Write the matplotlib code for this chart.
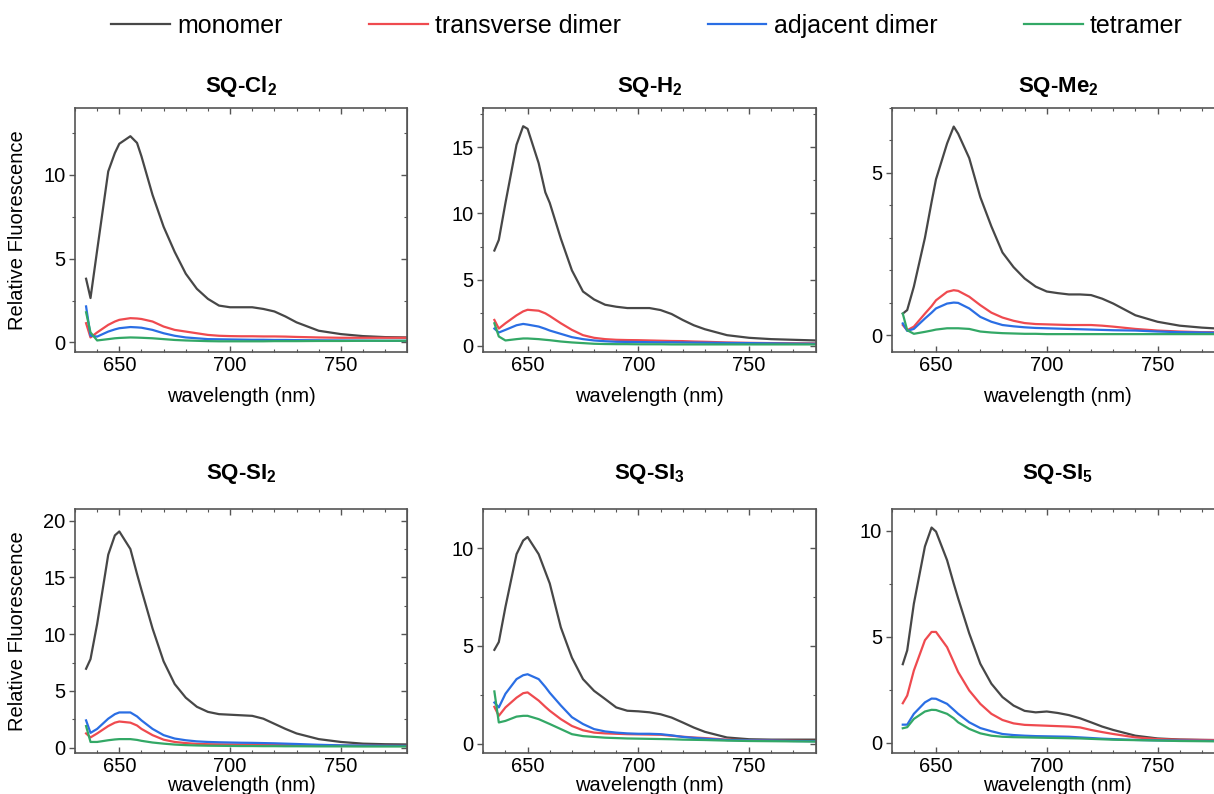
import numpy as np
import matplotlib
matplotlib.use("Agg")
import matplotlib.pyplot as plt
from matplotlib.ticker import MultipleLocator

plt.rcParams["font.family"] = ["Liberation Sans", "DejaVu Sans"]
plt.rcParams["mathtext.fontset"] = "custom"
plt.rcParams["mathtext.rm"] = "Liberation Sans"
plt.rcParams["mathtext.bf"] = "Liberation Sans:bold"

# wavelength grid (nm) shared by all curves
wl = [635, 637, 640, 645, 648, 650, 655, 658, 660, 665, 670, 675, 680, 685,
      690, 695, 700, 705, 710, 715, 720, 725, 730, 740, 750, 760, 770, 780]

series_names = ["monomer", "transverse dimer", "adjacent dimer", "tetramer"]
series_colors = ["#474747", "#ef4a4f", "#2a6ee4", "#33a866"]

# SQ-Cl2
cl2_mono = [3.8, 2.65, 5.5, 10.2, 11.3, 11.85, 12.3, 11.9, 11.1, 8.8, 6.9, 5.4, 4.1, 3.2,
            2.6, 2.2, 2.1, 2.1, 2.1, 2.0, 1.85, 1.55, 1.2, 0.7, 0.5, 0.38, 0.32, 0.3]
cl2_trans = [1.15, 0.3, 0.6, 1.05, 1.25, 1.35, 1.45, 1.43, 1.4, 1.25, 0.95, 0.75, 0.65, 0.55,
             0.45, 0.4, 0.38, 0.37, 0.37, 0.36, 0.36, 0.35, 0.33, 0.3, 0.28, 0.28, 0.28, 0.28]
cl2_adj = [2.15, 0.4, 0.35, 0.65, 0.78, 0.85, 0.92, 0.9, 0.88, 0.75, 0.55, 0.4, 0.3, 0.25,
           0.2, 0.19, 0.18, 0.17, 0.16, 0.16, 0.15, 0.15, 0.14, 0.13, 0.12, 0.11, 0.1, 0.1]
cl2_tet = [1.8, 0.6, 0.12, 0.2, 0.25, 0.27, 0.3, 0.29, 0.28, 0.25, 0.2, 0.15, 0.12, 0.1,
           0.08, 0.07, 0.07, 0.07, 0.07, 0.07, 0.08, 0.08, 0.08, 0.09, 0.09, 0.1, 0.1, 0.1]

# SQ-H2
h2_mono = [7.2, 8.0, 10.8, 15.2, 16.6, 16.4, 13.8, 11.6, 10.8, 8.1, 5.7, 4.1, 3.5, 3.1,
           2.95, 2.85, 2.85, 2.85, 2.7, 2.4, 1.95, 1.55, 1.25, 0.8, 0.6, 0.5, 0.45, 0.4]
h2_trans = [1.95, 1.3, 1.7, 2.3, 2.6, 2.72, 2.65, 2.45, 2.25, 1.7, 1.2, 0.8, 0.6, 0.5,
            0.45, 0.43, 0.42, 0.4, 0.38, 0.36, 0.35, 0.32, 0.3, 0.25, 0.22, 0.2, 0.19, 0.18]
h2_adj = [1.3, 1.0, 1.2, 1.55, 1.65, 1.6, 1.45, 1.28, 1.15, 0.9, 0.65, 0.5, 0.4, 0.34,
          0.3, 0.29, 0.28, 0.27, 0.26, 0.26, 0.25, 0.24, 0.23, 0.21, 0.2, 0.18, 0.16, 0.15]
h2_tet = [1.7, 0.7, 0.4, 0.5, 0.55, 0.55, 0.5, 0.45, 0.42, 0.32, 0.25, 0.2, 0.15, 0.13,
          0.12, 0.12, 0.11, 0.11, 0.11, 0.1, 0.1, 0.1, 0.1, 0.1, 0.1, 0.1, 0.1, 0.1]

# SQ-Me2
me2_mono = [0.67, 0.78, 1.5, 3.0, 4.1, 4.8, 5.9, 6.42, 6.2, 5.45, 4.25, 3.35, 2.55, 2.1,
            1.75, 1.5, 1.35, 1.3, 1.26, 1.26, 1.24, 1.13, 0.98, 0.62, 0.42, 0.3, 0.24, 0.2]
me2_trans = [0.32, 0.16, 0.27, 0.67, 0.9, 1.08, 1.34, 1.39, 1.37, 1.19, 0.93, 0.7, 0.55, 0.45,
             0.38, 0.35, 0.34, 0.33, 0.32, 0.32, 0.32, 0.3, 0.27, 0.2, 0.15, 0.12, 0.1, 0.1]
me2_adj = [0.37, 0.14, 0.2, 0.52, 0.7, 0.83, 0.98, 1.01, 1.0, 0.83, 0.57, 0.42, 0.32, 0.28,
           0.25, 0.23, 0.22, 0.21, 0.2, 0.19, 0.18, 0.17, 0.16, 0.15, 0.12, 0.1, 0.09, 0.08]
me2_tet = [0.67, 0.16, 0.05, 0.11, 0.15, 0.18, 0.22, 0.22, 0.22, 0.2, 0.12, 0.09, 0.07, 0.06,
           0.05, 0.05, 0.04, 0.04, 0.04, 0.04, 0.04, 0.04, 0.04, 0.04, 0.04, 0.04, 0.04, 0.04]

# SQ-SI2
si2_mono = [6.95, 7.8, 10.9, 17.0, 18.7, 19.05, 17.5, 15.3, 13.9, 10.5, 7.6, 5.6, 4.4, 3.6,
            3.15, 2.95, 2.9, 2.85, 2.8, 2.55, 2.1, 1.65, 1.25, 0.75, 0.5, 0.35, 0.3, 0.28]
si2_trans = [1.25, 0.9, 1.25, 1.9, 2.2, 2.3, 2.2, 1.95, 1.65, 1.1, 0.7, 0.5, 0.4, 0.33,
             0.3, 0.29, 0.28, 0.27, 0.26, 0.25, 0.25, 0.23, 0.22, 0.2, 0.18, 0.17, 0.16, 0.15]
si2_adj = [2.4, 1.3, 1.65, 2.55, 2.95, 3.1, 3.1, 2.75, 2.4, 1.65, 1.1, 0.8, 0.65, 0.55,
           0.5, 0.47, 0.45, 0.43, 0.42, 0.4, 0.38, 0.35, 0.32, 0.25, 0.2, 0.18, 0.16, 0.15]
si2_tet = [1.9, 0.5, 0.5, 0.65, 0.72, 0.75, 0.75, 0.68, 0.6, 0.45, 0.35, 0.27, 0.22, 0.19,
           0.17, 0.16, 0.15, 0.14, 0.14, 0.13, 0.13, 0.12, 0.12, 0.11, 0.11, 0.1, 0.1, 0.1]

# SQ-SI3
si3_mono = [4.8, 5.2, 7.0, 9.7, 10.4, 10.58, 9.7, 8.8, 8.2, 5.95, 4.4, 3.3, 2.7, 2.28,
            1.85, 1.68, 1.65, 1.6, 1.5, 1.33, 1.08, 0.82, 0.6, 0.31, 0.22, 0.2, 0.2, 0.2]
si3_trans = [1.88, 1.42, 1.85, 2.35, 2.58, 2.62, 2.2, 1.88, 1.68, 1.25, 0.9, 0.68, 0.56, 0.52,
             0.5, 0.48, 0.47, 0.46, 0.45, 0.4, 0.35, 0.31, 0.28, 0.2, 0.17, 0.15, 0.14, 0.13]
si3_adj = [2.1, 1.85, 2.55, 3.3, 3.5, 3.55, 3.3, 2.9, 2.6, 1.95, 1.35, 1.0, 0.74, 0.62,
           0.56, 0.52, 0.5, 0.5, 0.48, 0.42, 0.34, 0.29, 0.25, 0.18, 0.16, 0.15, 0.13, 0.12]
si3_tet = [2.67, 1.08, 1.16, 1.38, 1.42, 1.42, 1.25, 1.1, 1.0, 0.74, 0.48, 0.38, 0.34, 0.3,
           0.28, 0.26, 0.25, 0.24, 0.23, 0.22, 0.2, 0.19, 0.18, 0.15, 0.13, 0.12, 0.11, 0.1]

# SQ-SI5
si5_mono = [3.7, 4.35, 6.55, 9.25, 10.14, 9.95, 8.6, 7.5, 6.8, 5.15, 3.72, 2.78, 2.15, 1.75,
            1.5, 1.43, 1.47, 1.4, 1.3, 1.15, 0.96, 0.76, 0.6, 0.33, 0.2, 0.15, 0.13, 0.12]
si5_trans = [1.86, 2.22, 3.4, 4.83, 5.22, 5.22, 4.5, 3.8, 3.33, 2.46, 1.83, 1.36, 1.07, 0.91,
             0.84, 0.82, 0.8, 0.78, 0.76, 0.72, 0.6, 0.5, 0.41, 0.25, 0.17, 0.14, 0.13, 0.12]
si5_adj = [0.85, 0.85, 1.36, 1.9, 2.08, 2.07, 1.83, 1.55, 1.36, 0.96, 0.69, 0.54, 0.41, 0.36,
           0.33, 0.31, 0.3, 0.29, 0.28, 0.25, 0.22, 0.19, 0.17, 0.13, 0.11, 0.1, 0.09, 0.08]
si5_tet = [0.68, 0.73, 1.12, 1.47, 1.55, 1.54, 1.36, 1.15, 0.96, 0.65, 0.44, 0.33, 0.28, 0.26,
           0.25, 0.24, 0.23, 0.22, 0.21, 0.2, 0.18, 0.16, 0.14, 0.12, 0.1, 0.08, 0.07, 0.06]

titles = [r"SQ-Cl$_\mathbf{2}$", r"SQ-H$_\mathbf{2}$", r"SQ-Me$_\mathbf{2}$",
          r"SQ-SI$_\mathbf{2}$", r"SQ-SI$_\mathbf{3}$", r"SQ-SI$_\mathbf{5}$"]
panel_data = [
    [cl2_mono, cl2_trans, cl2_adj, cl2_tet],
    [h2_mono, h2_trans, h2_adj, h2_tet],
    [me2_mono, me2_trans, me2_adj, me2_tet],
    [si2_mono, si2_trans, si2_adj, si2_tet],
    [si3_mono, si3_trans, si3_adj, si3_tet],
    [si5_mono, si5_trans, si5_adj, si5_tet],
]
ylims = [(-0.55, 14), (-0.45, 18), (-0.5, 7), (-0.5, 21), (-0.5, 12), (-0.5, 11)]
yminor = [2.5, 2.5, 1, 2.5, 2.5, 2.5]

# layout (pixels -> figure fractions)
W, H = 1214, 794
col_left = [75, 483.3, 891.7]
row_top = [107.7, 509.3]
ax_w, ax_h = 332.3, 244.0
title_pad = [11.5, 21.6]
xlabel_y = [-0.145, -0.094]

fig = plt.figure(figsize=(W / 100, H / 100), dpi=100)
spine_col = "#555555"

handles = []
for k in range(6):
    r, c = divmod(k, 3)
    ax = fig.add_axes([col_left[c] / W, 1 - (row_top[r] + ax_h) / H, ax_w / W, ax_h / H])
    for vals, name, col in zip(panel_data[k], series_names, series_colors):
        assert len(vals) == len(wl)
        ln, = ax.plot(wl, vals, color=col, lw=1.6, label=name)
        if k == 0:
            handles.append(ln)
    ax.set_xlim(630, 780)
    ax.set_ylim(*ylims[k])
    ax.xaxis.set_major_locator(MultipleLocator(50))
    ax.xaxis.set_minor_locator(MultipleLocator(10))
    ax.yaxis.set_major_locator(MultipleLocator(5))
    ax.yaxis.set_minor_locator(MultipleLocator(yminor[k]))
    ax.tick_params(axis="x", which="both", direction="in", top=True, bottom=True,
                   color=spine_col, labelsize=14.5, pad=3)
    ax.tick_params(axis="y", which="both", direction="out", left=True, right=False,
                   color=spine_col, labelsize=14.5, pad=3)
    ax.tick_params(which="major", length=4, width=1)
    ax.tick_params(which="minor", length=2.5, width=0.8)
    # right-hand ticks point inward
    sec = ax.secondary_yaxis("right")
    sec.yaxis.set_major_locator(MultipleLocator(5))
    sec.yaxis.set_minor_locator(MultipleLocator(yminor[k]))
    sec.tick_params(which="both", direction="in", labelright=False, color=spine_col)
    sec.tick_params(which="major", length=4, width=1)
    sec.tick_params(which="minor", length=2.5, width=0.8)
    sec.spines["right"].set_color(spine_col)
    for s in ax.spines.values():
        s.set_color(spine_col)
        s.set_linewidth(1.2)
    ax.set_title(titles[k], fontsize=16, fontweight="bold", pad=title_pad[r])
    ax.set_xlabel("wavelength (nm)", fontsize=14.5)
    ax.xaxis.set_label_coords(0.5, xlabel_y[r])
    if c == 0:
        ax.set_ylabel("Relative Fluorescence", fontsize=14.5)
        ax.yaxis.set_label_coords(-0.145, 0.5)

fig.legend(handles=handles, labels=series_names, loc="center",
           bbox_to_anchor=(647 / W, 1 - 26 / H), ncol=4, frameon=False,
           fontsize=18, handlelength=2.35, handletextpad=0.3, columnspacing=3.45,
           borderpad=0, borderaxespad=0)

fig.savefig("out.png", dpi=100)
